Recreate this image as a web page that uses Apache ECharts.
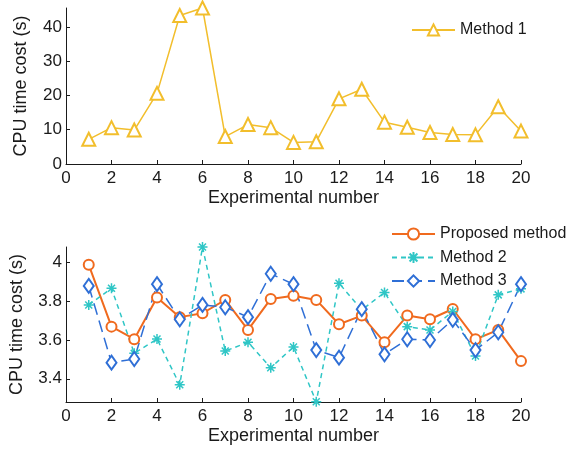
<!DOCTYPE html>
<html>
<head>
<meta charset="utf-8">
<script src="https://cdn.jsdelivr.net/npm/echarts@6/dist/echarts.min.js"></script>
<style>
  html, body { margin: 0; padding: 0; background: #fff; }
  #chart { width: 568px; height: 450px; }
</style>
</head>
<body>
<div id="chart"></div>
<script>
// Experiment indices shared by both panels
const experiments = [1,2,3,4,5,6,7,8,9,10,11,12,13,14,15,16,17,18,19,20];

// Upper panel: CPU time of Method 1 (s)
const method1 = [7.2,10.6,9.9,20.6,43.3,45.5,8.0,11.5,10.6,6.3,6.5,19.0,21.8,12.2,10.7,9.2,8.6,8.5,16.7,9.6];

// Lower panel: CPU time of the remaining methods (s)
const proposed = [3.988,3.669,3.604,3.819,3.718,3.738,3.807,3.652,3.812,3.828,3.807,3.681,3.726,3.588,3.726,3.707,3.760,3.604,3.652,3.491];
const method2  = [3.781,3.867,3.531,3.605,3.369,4.080,3.543,3.588,3.457,3.564,3.281,3.893,3.755,3.845,3.669,3.652,3.747,3.517,3.833,3.864];
const method3  = [3.879,3.483,3.502,3.888,3.707,3.781,3.769,3.718,3.942,3.888,3.548,3.509,3.759,3.526,3.604,3.600,3.704,3.548,3.640,3.888];

// Tick labels
const xTicks = [0,2,4,6,8,10,12,14,16,18,20];
const yTicksTop = [0,10,20,30,40];
const yTicksBottom = [3.4,3.6,3.8,4];

const FONT = '"Liberation Sans", Arial, sans-serif';
const INK = '#1a1a1a';
const C_YELLOW = '#F2BE2C';
const C_ORANGE = '#F06A1E';
const C_CYAN = '#2FC6C6';
const C_BLUE = '#2F6FD6';

const pairs = ys => experiments.map((x, i) => [x, ys[i]]);

const asterisk = 'path://M5 0L5 10M0 5L10 5M1.5 1.5L8.5 8.5M1.5 8.5L8.5 1.5';

function xAxis(gridIndex) {
  return {
    type: 'value', gridIndex, min: 0, max: 20, interval: 2,
    name: 'Experimental number', nameLocation: 'middle', nameGap: 25,
    nameTextStyle: { fontFamily: FONT, fontSize: 18, color: INK },
    axisLine: { show: true, lineStyle: { color: INK, width: 1 } },
    axisTick: { show: true, inside: true, length: 4, lineStyle: { color: INK } },
    axisLabel: { fontFamily: FONT, fontSize: 17, color: INK, margin: 6,
                 customValues: xTicks },
    splitLine: { show: false }
  };
}

function yAxis(gridIndex, min, max, ticks, gap) {
  return {
    type: 'value', gridIndex, min, max,
    name: 'CPU time cost (s)', nameLocation: 'middle', nameGap: gap,
    nameTextStyle: { fontFamily: FONT, fontSize: 18, color: INK },
    axisLine: { show: true, lineStyle: { color: INK, width: 1 } },
    axisTick: { show: true, inside: true, length: 4, lineStyle: { color: INK },
                customValues: ticks },
    axisLabel: { fontFamily: FONT, fontSize: 17, color: INK, margin: 4,
                 customValues: ticks },
    splitLine: { show: false }
  };
}

const chart = echarts.init(document.getElementById('chart'), null, { renderer: 'canvas' });

chart.setOption({
  animation: false,
  backgroundColor: '#fff',
  grid: [
    { left: 66, right: 47, top: 8, height: 156 },
    { left: 66, right: 47, top: 247, height: 155 }
  ],
  xAxis: [xAxis(0), xAxis(1)],
  yAxis: [
    yAxis(0, 0, 45.5, yTicksTop, 36),
    yAxis(1, 3.28, 4.08, yTicksBottom, 40)
  ],
  legend: [
    {
      data: ['Method 1'], left: 406, top: 17, itemWidth: 43, itemHeight: 14,
      textStyle: { fontFamily: FONT, fontSize: 16, color: INK }
    },
    {
      data: ['Proposed method', 'Method 2', 'Method 3'], orient: 'vertical',
      left: 386, top: 221, itemWidth: 43, itemHeight: 14, itemGap: 7.5,
      textStyle: { fontFamily: FONT, fontSize: 16, color: INK }
    }
  ],
  series: [
    {
      name: 'Method 1', type: 'line', xAxisIndex: 0, yAxisIndex: 0,
      data: pairs(method1),
      symbol: 'emptyTriangle', symbolSize: 13,
      lineStyle: { color: C_YELLOW, width: 1.5 },
      itemStyle: { color: C_YELLOW, borderColor: C_YELLOW, borderWidth: 1.5 }
    },
    {
      name: 'Proposed method', type: 'line', xAxisIndex: 1, yAxisIndex: 1,
      data: pairs(proposed),
      symbol: 'emptyCircle', symbolSize: 10,
      lineStyle: { color: C_ORANGE, width: 2 },
      itemStyle: { color: C_ORANGE, borderColor: C_ORANGE, borderWidth: 3 }
    },
    {
      name: 'Method 2', type: 'line', xAxisIndex: 1, yAxisIndex: 1,
      data: pairs(method2),
      symbol: asterisk, symbolSize: 10,
      lineStyle: { color: C_CYAN, width: 1.5, type: [5, 4] },
      itemStyle: { color: C_CYAN, borderColor: C_CYAN, borderWidth: 1.5 }
    },
    {
      name: 'Method 3', type: 'line', xAxisIndex: 1, yAxisIndex: 1,
      data: pairs(method3),
      symbol: 'emptyDiamond', symbolSize: [10, 14],
      lineStyle: { color: C_BLUE, width: 1.5, type: [12, 6] },
      itemStyle: { color: C_BLUE, borderColor: C_BLUE, borderWidth: 1.5 }
    }
  ]
});
</script>
</body>
</html>
